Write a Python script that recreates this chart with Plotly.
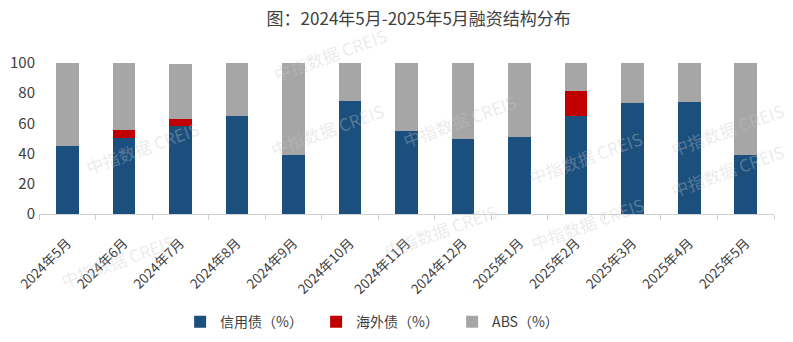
import plotly.graph_objects as go

categories = ["2024年5月", "2024年6月", "2024年7月", "2024年8月", "2024年9月", "2024年10月",
              "2024年11月", "2024年12月", "2025年1月", "2025年2月", "2025年3月", "2025年4月", "2025年5月"]
credit = [45.0, 50.2, 58.6, 65.2, 39.3, 74.8, 55.1, 49.6, 51.3, 64.6, 73.8, 74.4, 38.9]
overseas = [0.0, 5.6, 4.6, 0.0, 0.0, 0.0, 0.0, 0.0, 0.0, 16.6, 0.0, 0.0, 0.0]
abs_share = [55.0, 44.2, 36.2, 34.8, 60.7, 25.2, 44.9, 50.4, 48.7, 18.8, 26.2, 25.6, 61.1]
series_names = ["信用债（%）", "海外债（%）", "ABS（%）"]
colors = ["#1B4F7D", "#C00000", "#A6A6A6"]
y_ticks = [0, 20, 40, 60, 80, 100]

fig = go.Figure()
for name, vals, c in zip(series_names, [credit, overseas, abs_share], colors):
    fig.add_trace(go.Bar(x=categories, y=vals, name=name, marker=dict(color=c, line=dict(width=0))))

font_family = "Microsoft YaHei, Noto Sans CJK SC, sans-serif"
fig.update_layout(
    barmode="stack",
    bargap=0.6,
    width=793, height=342,
    margin=dict(l=39, r=19, t=63, b=128, autoexpand=False),
    paper_bgcolor="white", plot_bgcolor="white",
    font=dict(family=font_family, color="#404040", size=12),
    title=dict(text="图：2024年5月-2025年5月融资结构分布", x=0.528, xanchor="center",
               y=0.945, yanchor="middle", font=dict(size=17, color="#404040")),
    showlegend=True,
    legend=dict(orientation="h", x=0.192, xanchor="left", yref="container", y=0.058, yanchor="middle",
                font=dict(size=14, color="#404040"), traceorder="normal",
                itemwidth=30, tracegroupgap=0, entrywidth=91, entrywidthmode="pixels"),
    xaxis=dict(showline=True, linecolor="#D0D0D0", linewidth=1, ticks="outside",
               tickcolor="#D0D0D0", ticklen=5, tickson="boundaries", tickangle=-45,
               tickfont=dict(size=13.5, color="#404040"), showgrid=False, automargin=False,
               ticklabelstandoff=15),
    yaxis=dict(range=[0, 100], tickvals=y_ticks, showgrid=False, zeroline=False,
               showline=False, ticks="", tickfont=dict(size=15, color="#404040"), automargin=False,
               ticklabelstandoff=3),
)

wm = [(265, 95), (80, 182), (460, 120), (648, 157), (55, 295), (440, 265), (650, 258), (330, 20), (790, 95), (790, 205)]
for (px, py) in wm:
    fig.add_annotation(text="中指数据 CREIS", xref="paper", yref="paper",
                       x=(px - 39) / (793 - 39 - 19), y=(342 - 128 - py) / (342 - 63 - 128),
                       showarrow=False, textangle=-20,
                       font=dict(size=17, color="rgba(200,200,200,0.35)", family=font_family))

fig.write_html("out.html")
